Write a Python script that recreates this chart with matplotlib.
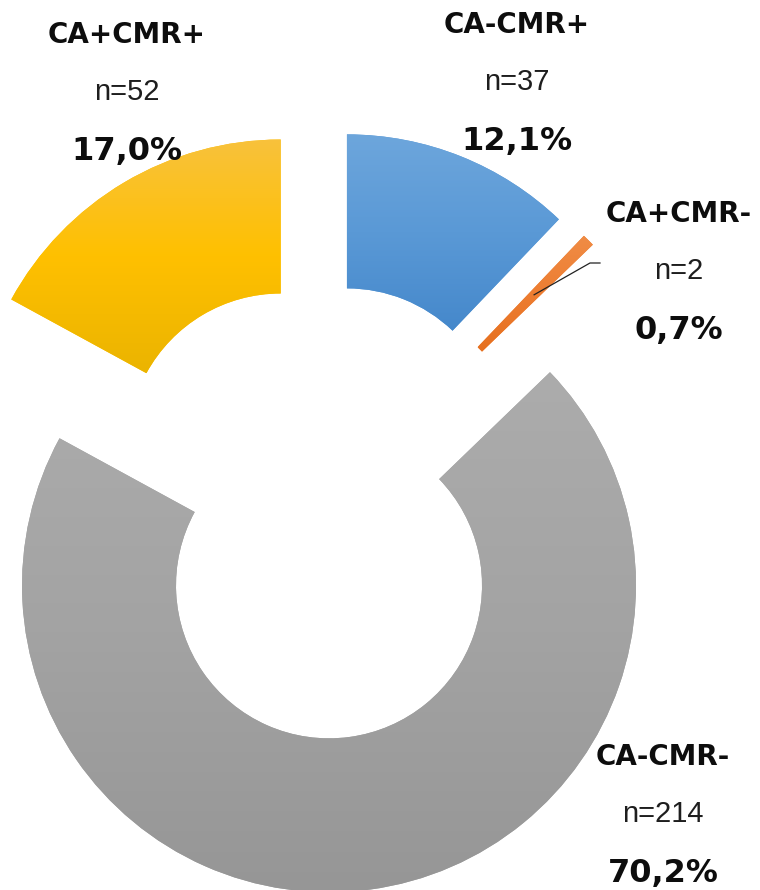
import numpy as np
import matplotlib
matplotlib.use("Agg")
import matplotlib.pyplot as plt
from matplotlib.colors import LinearSegmentedColormap

# data (clockwise from 12 o'clock)
groups = ['CA-CMR+', 'CA+CMR-', 'CA-CMR-', 'CA+CMR+']
counts = [37, 2, 214, 52]

# gradient colours per slice (top, middle, bottom)
grad_colors = [
    ['#6DA6DC', '#5A99D6', '#4588CB'],
    ['#F08C45', '#ED7D31', '#E6701F'],
    ['#ACACAC', '#A3A3A3', '#969696'],
    ['#F8C23C', '#FFC000', '#EBB400'],
]

# label anchor points in picture pixels (x, baseline of first line)
label_pos = [(517, 33), (679, 222), (663, 765), (127, 43)]

W, H = 760, 890


def img_y(y):
    """Convert a picture row to data y (axes run bottom-up)."""
    return H - y


fig = plt.figure(figsize=(W / 100, H / 100), dpi=100)
ax = fig.add_axes([0, 0, 1, 1])

center = (319, img_y(511))
radius = 307
ring = 154

wedges, _ = ax.pie(counts, startangle=90, counterclock=False,
                   radius=radius, center=center, explode=[75] * len(counts),
                   colors=[c[1] for c in grad_colors],
                   wedgeprops=dict(width=ring, edgecolor='none'))

# vertical gradient inside each slice
for w, cols in zip(wedges, grad_colors):
    ext = w.get_path().get_extents()
    cmap = LinearSegmentedColormap.from_list('g', cols[::-1])
    grad = np.linspace(0, 1, 256).reshape(-1, 1)
    im = ax.imshow(grad, cmap=cmap, origin='lower', aspect='auto',
                   extent=[ext.x0, ext.x1, ext.y0, ext.y1], zorder=2)
    im.set_clip_path(w)

# leader line for the thin slice
w = wedges[1]
mid = np.deg2rad((w.theta1 + w.theta2) / 2)
rm = w.r - w.width / 2
x0 = w.center[0] + rm * np.cos(mid)
y0 = w.center[1] + rm * np.sin(mid)
ax.plot([x0, 590, 600], [y0, img_y(263), img_y(263)], color='#222222',
        lw=0.9, zorder=3)

# labels
total = sum(counts)
for name, n, (lx, ly) in zip(groups, counts, label_pos):
    pct = f"{100 * n / total:.1f}%".replace('.', ',')
    ax.text(lx, img_y(ly), name, ha='center', va='baseline',
            fontsize=20, fontweight='bold', family='DejaVu Sans', color='#0d0d0d')
    ax.text(lx, img_y(ly + 57), f"n={n}", ha='center', va='baseline',
            fontsize=21, family='Liberation Sans', color='#1e1e1e')
    ax.text(lx, img_y(ly + 117), pct, ha='center', va='baseline',
            fontsize=23, fontweight='bold', family='DejaVu Sans', color='#0d0d0d')

ax.set_xlim(0, W)
ax.set_ylim(0, H)
ax.set_aspect('auto')
ax.axis('off')

fig.savefig('out.png', dpi=100, facecolor='white')
